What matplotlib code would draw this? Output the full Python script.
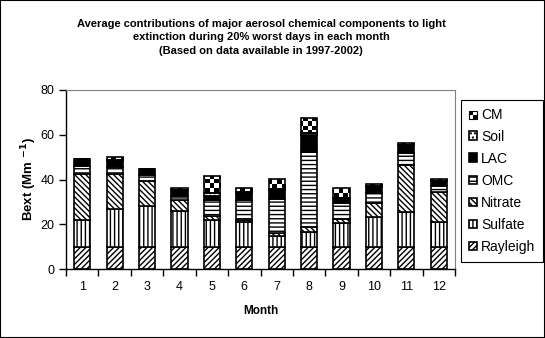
import numpy as np
import matplotlib
matplotlib.use("Agg")
import matplotlib.pyplot as plt
from matplotlib.patches import Rectangle
from matplotlib.legend_handler import HandlerBase

plt.rcParams['font.family'] = ['Liberation Sans', 'DejaVu Sans']
plt.rcParams['hatch.linewidth'] = 1.0

months = ['1', '2', '3', '4', '5', '6', '7', '8', '9', '10', '11', '12']
rayleigh = [10, 10, 10, 10, 10, 10, 10, 10, 10, 10, 10, 10]
sulfate = [12, 17, 18.3, 15.8, 11.9, 10.9, 4.7, 6.7, 10.4, 13.4, 15.6, 11.2]
nitrate = [20.5, 15.5, 11.2, 5.0, 1.8, 1.2, 1.2, 1.9, 1.8, 6.0, 20.9, 13.1]
omc = [3.5, 3.2, 2.4, 2.0, 7.1, 8.7, 15.2, 33.8, 7.2, 4.4, 5.2, 2.9]
lac = [3.0, 2.5, 2.8, 2.5, 1.8, 3.3, 4.2, 7.5, 2.2, 3.0, 3.5, 2.1]
soil = [0.3, 0.3, 0.2, 0.2, 1.2, 0.2, 0.3, 1.0, 0.3, 0.2, 0.2, 0.2]
cm = [0, 1.5, 0, 0.5, 7.8, 1.8, 4.8, 6.4, 4.5, 1.2, 0.7, 0.5]

series = [('Rayleigh', rayleigh, 'white', '//////'),
          ('Sulfate', sulfate, 'white', '||||'),
          ('Nitrate', nitrate, 'white', '\\\\\\\\\\\\'),
          ('OMC', omc, 'white', '----'),
          ('LAC', lac, 'black', None),
          ('Soil', soil, 'white', '....'),
          ('CM', cm, 'none', None)]

fig = plt.figure(figsize=(5.45, 3.38), dpi=100)
ax = fig.add_axes([66 / 545, 69 / 338, 389 / 545, 179 / 338])

x = np.arange(len(months))
bottom = np.zeros(len(months))
bars = {}
for name, vals, fc, hatch in series:
    bars[name] = ax.bar(x, vals, 0.5, bottom=bottom, color=fc, edgecolor='black',
                        linewidth=1.2, hatch=hatch, label=name, zorder=2)
    bottom += np.array(vals)

# checkerboard fill for CM
xlim = (-0.5, 11.5)
ylim = (0, 80)
nx, ny = 87, 40
checker = (np.add.outer(np.arange(ny), np.arange(nx)) % 2).astype(float)
for patch in bars['CM']:
    im = ax.imshow(checker, cmap='gray', extent=(*xlim, *ylim), aspect='auto',
                   interpolation='nearest', origin='lower', zorder=1)
    im.set_clip_path(patch)

ax.set_xlim(*xlim)
ax.set_ylim(*ylim)
ax.set_yticks([0, 20, 40, 60, 80])
ax.set_xticks(x)
ax.set_xticklabels(months)
ax.set_xticks(np.arange(-0.5, 12, 1), minor=True)
ax.tick_params(axis='x', which='major', length=0, pad=9, labelsize=9)
ax.tick_params(axis='x', which='minor', length=5, direction='out', width=1)
ax.tick_params(axis='y', length=5, direction='out', width=1, labelsize=9)
for s in ['top', 'right']:
    ax.spines[s].set_color('#808080')
ax.spines['left'].set_linewidth(1)
ax.spines['bottom'].set_linewidth(1)

ax.set_ylabel(r'Bext (Mm $^{\mathbf{-1}}$)', fontsize=9.5, fontweight='bold', labelpad=1)
ax.set_xlabel('Month', fontsize=8.5, fontweight='bold', labelpad=8)

fig.text(261 / 545, 0.945, 'Average contributions of major aerosol chemical components to light\n'
         'extinction during 20% worst days in each month\n'
         '(Based on data available in 1997-2002)',
         ha='center', va='top', fontsize=8, fontweight='bold', linespacing=1.45)


class CheckerHandler(HandlerBase):
    def create_artists(self, legend, orig_handle, xd, yd, w, h, fontsize, trans):
        s = min(w, h)
        arts = [Rectangle((xd, yd), s, s, facecolor='white', edgecolor='black', lw=0.8, transform=trans)]
        arts.append(Rectangle((xd, yd + s / 2), s / 2, s / 2, facecolor='black', lw=0, transform=trans))
        arts.append(Rectangle((xd + s / 2, yd), s / 2, s / 2, facecolor='black', lw=0, transform=trans))
        return arts


handles = [bars[n] for n, *_ in series][::-1]
labels = [n for n, *_ in series][::-1]
leg = fig.legend(handles, labels, loc='upper left', bbox_to_anchor=(461 / 545, 238 / 338),
                 bbox_transform=fig.transFigure, fontsize=10, fancybox=False,
                 edgecolor='black', framealpha=1, handlelength=0.6, handleheight=0.6,
                 handletextpad=0.3, labelspacing=0.58, borderpad=0.55, borderaxespad=0,
                 handler_map={bars['CM']: CheckerHandler()})
leg.get_frame().set_linewidth(0.8)

fig.patches.append(Rectangle((0, 0), 1, 1, transform=fig.transFigure, fill=False,
                             edgecolor='black', linewidth=1.5))

fig.savefig('out.png', dpi=100)
